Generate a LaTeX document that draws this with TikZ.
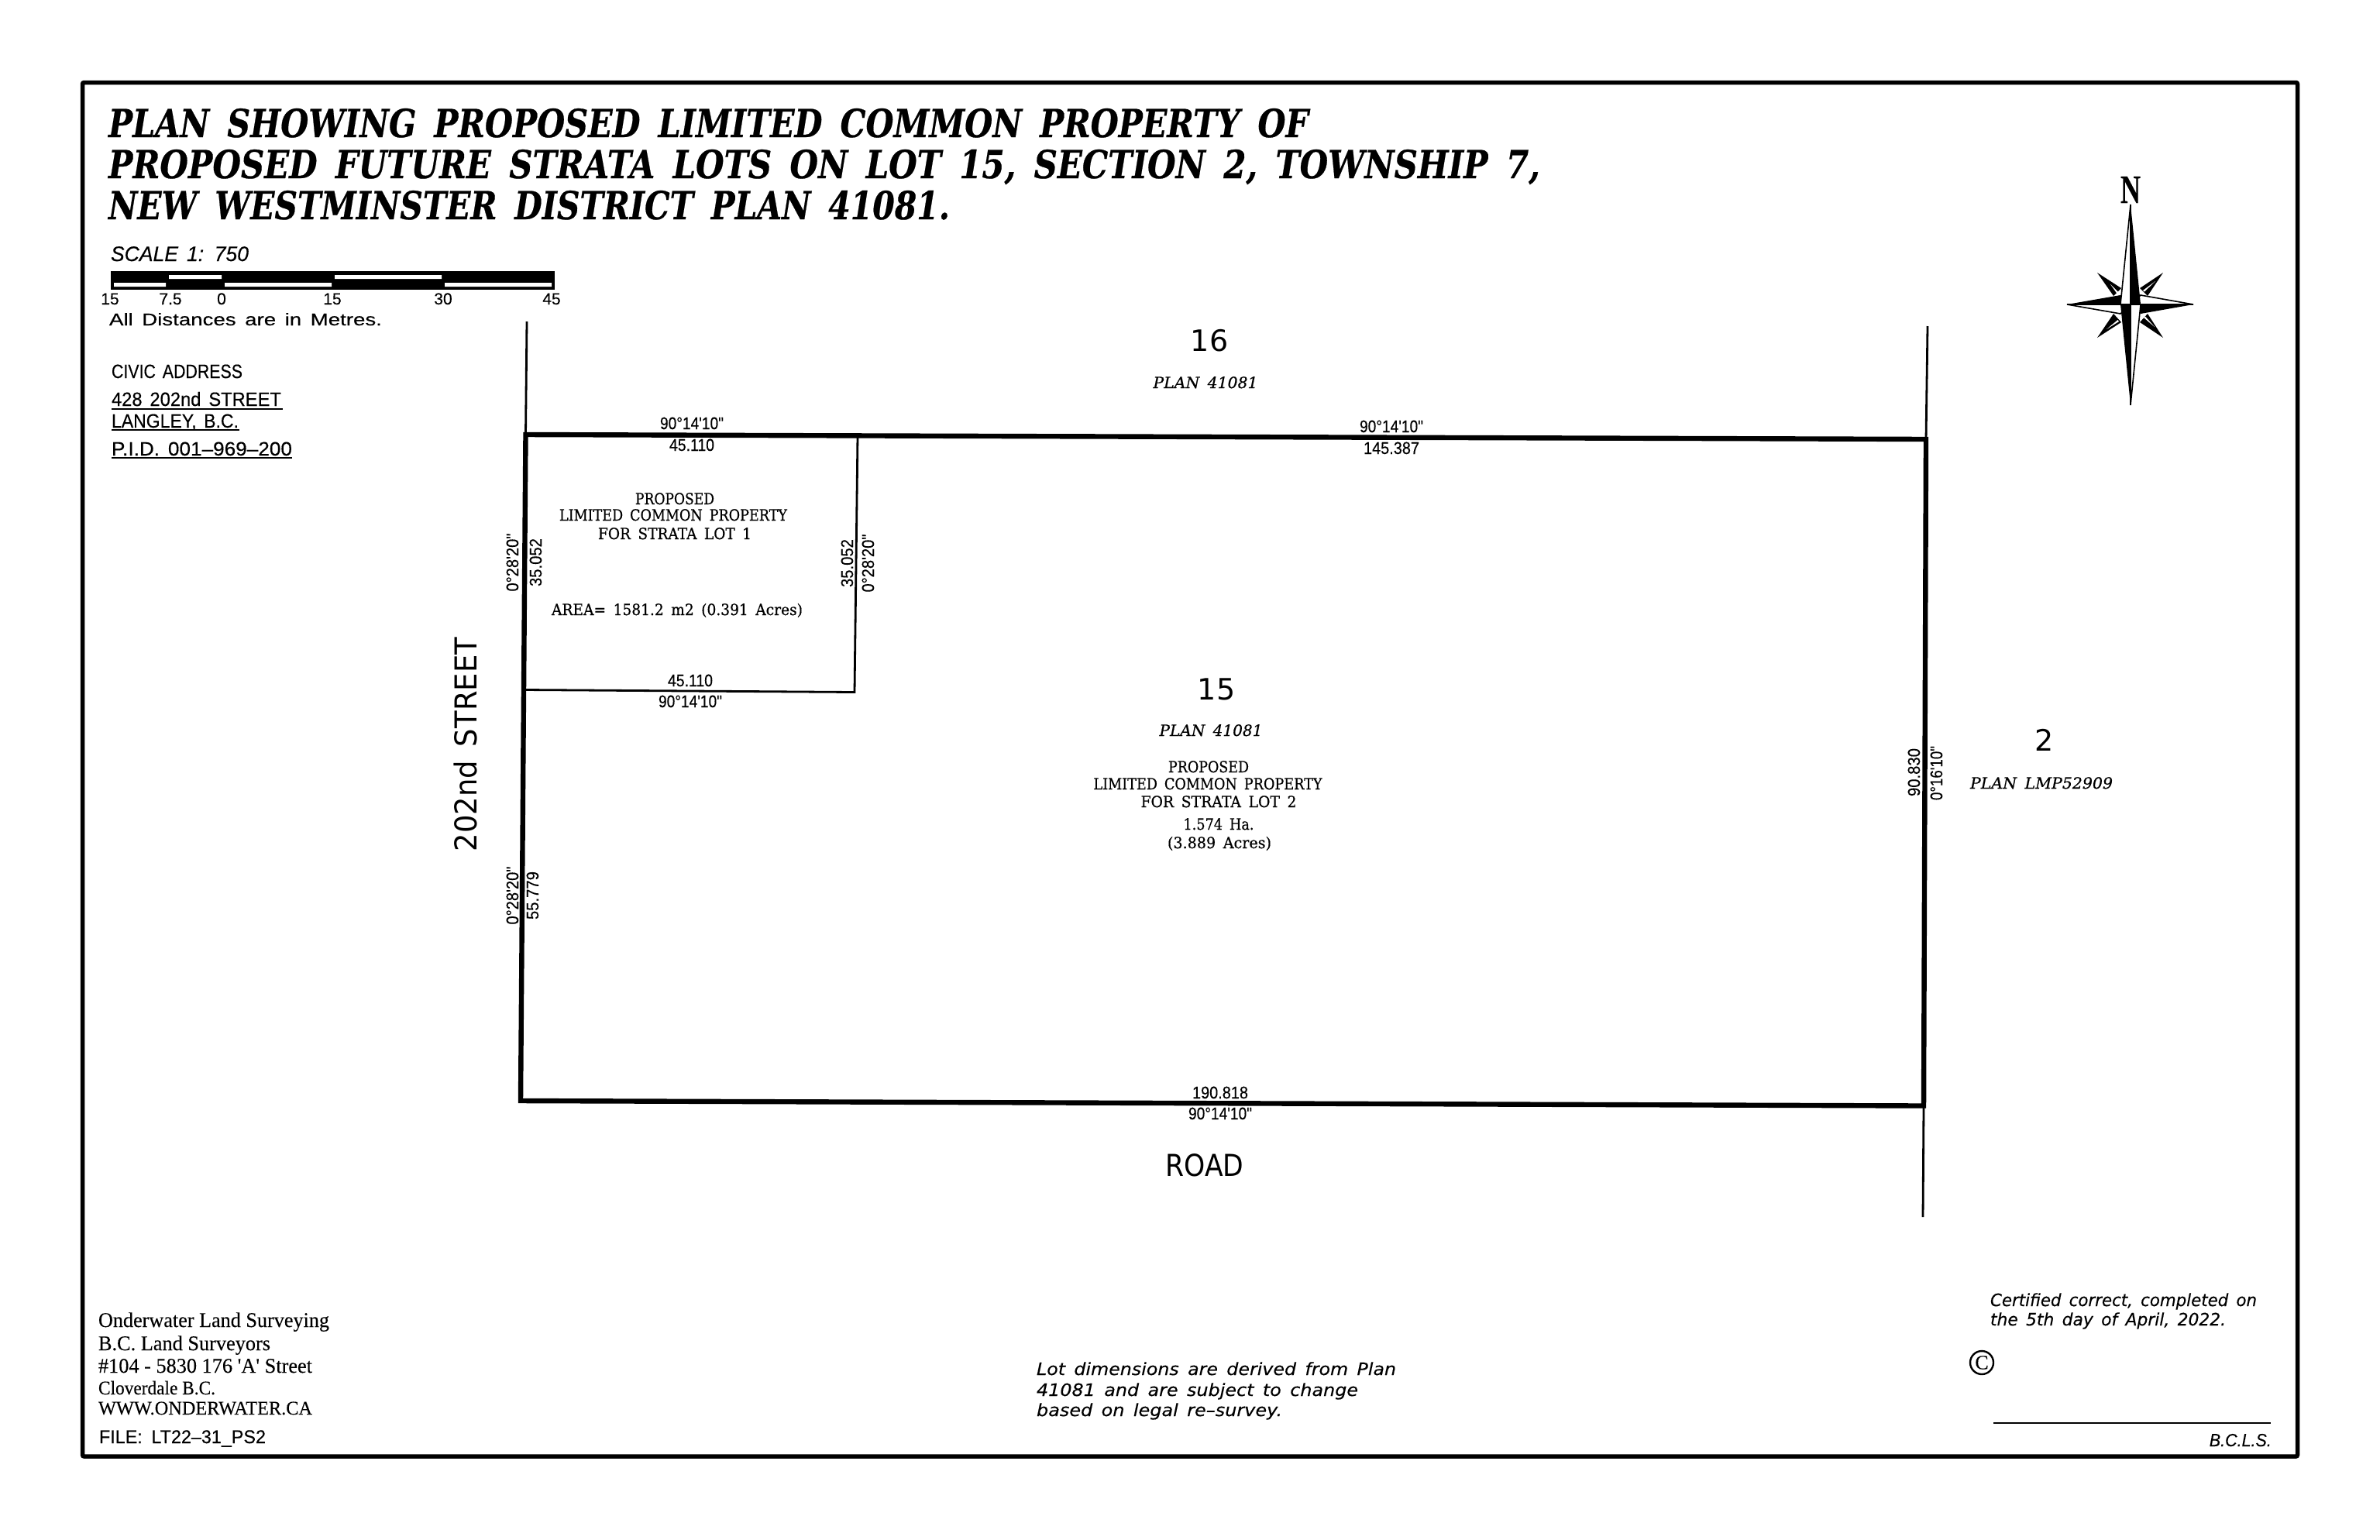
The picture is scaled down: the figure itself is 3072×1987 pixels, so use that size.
\documentclass[tikz,border=0pt]{standalone}
\usepackage{fontspec}
\usepackage{graphicx}
\setmainfont{Liberation Sans}
\newfontfamily\sansf[WordSpace=1.5,FakeBold=0.3,ItalicFeatures={FakeBold=0.3}]{Liberation Sans}
\newfontfamily\bigf[WordSpace=1.2]{DejaVu Sans}
\newfontfamily\oblf[WordSpace=1.5,ItalicFeatures={FakeBold=0.3}]{DejaVu Sans}
\newfontfamily\titlef[WordSpace=2.0,BoldItalicFeatures={FakeBold=0.5}]{DejaVu Serif}
\newfontfamily\slabf[WordSpace=1.6,FakeBold=0.5,ItalicFeatures={FakeBold=0.6}]{DejaVu Serif}
\newfontfamily\romanf[FakeBold=0.15]{Liberation Serif}
\newcommand\fsz[1]{\fontsize{#1}{#1}\selectfont}
\newsavebox\fitbox
\newcommand\fitw[2]{\sbox\fitbox{#2}\pgfmathsetmacro\fitr{#1/\the\wd\fitbox}\scalebox{\fitr}[1]{\usebox\fitbox}}
\tikzset{
  txl/.style={anchor=base west,inner sep=0pt,outer sep=0pt},
  txc/.style={anchor=base,inner sep=0pt,outer sep=0pt},
  txv/.style={anchor=base,inner sep=0pt,outer sep=0pt,rotate=90},
  heavy/.style={line width=6.4pt,line join=miter},
  light/.style={line width=2.8pt},
  dimt/.style={font=\sansf\fsz{22}},
  slabt/.style={font=\slabf\fsz{20}},
  plant/.style={font=\slabf\itshape\fsz{20}}
}
\begin{document}
\begin{tikzpicture}[x=1pt,y=-1pt]
\useasboundingbox (0,0) rectangle (3072,1987);
\fill[white] (0,0) rectangle (3072,1987);
% frame
\draw[line width=5.5pt,rounded corners=2pt] (106.5,106.5) rectangle (2965.5,1880);
% title
\node[txl,font=\titlef\itshape\bfseries\fsz{50}] (t1) at (140,177) {\fitw{1549}{PLAN SHOWING PROPOSED LIMITED COMMON PROPERTY OF}};
\node[txl,font=\titlef\itshape\bfseries\fsz{50}] (t2) at (140,230) {\fitw{1848}{PROPOSED FUTURE STRATA LOTS ON LOT 15, SECTION 2, TOWNSHIP 7,}};
\node[txl,font=\titlef\itshape\bfseries\fsz{50}] (t3) at (140,283) {\fitw{1086}{NEW WESTMINSTER DISTRICT PLAN 41081.}};
% scale
\node[txl,font=\sansf\itshape\fsz{27}] (sc) at (143,337) {\fitw{178}{SCALE 1: 750}};
\fill[black] (143,350) rectangle (716,374);
\fill[white] (218,355) rectangle (286,360) (432,355) rectangle (570,360);
\fill[white] (147,365) rectangle (214,370) (290,365) rectangle (428,370) (574,365) rectangle (712,370);
\foreach \x/\lb in {142/15,220/7.5,286/0,429/15,572/30,712/45}
  \node[txc,font=\sansf\fsz{21}] at (\x,393) {\lb};
\node[txl,font=\sansf\fsz{22}] (dist) at (141,420) {\fitw{352}{All Distances are in Metres.}};
\node[txl,font=\sansf\fsz{25}] (civ) at (144,488) {\fitw{169}{CIVIC ADDRESS}};
\node[txl,font=\sansf\fsz{25}] (civ1) at (144,524) {\fitw{219}{428 202nd STREET}};
\node[txl,font=\sansf\fsz{25}] (civ2) at (144,552) {\fitw{164}{LANGLEY, B.C.}};
\node[txl,font=\sansf\fsz{25}] (civ3) at (144,588) {\fitw{233}{P.I.D. 001–969–200}};
\draw[line width=2pt] (144,527.5) -- (365,527.5) (144,555) -- (309,555) (144,591) -- (377,591);
% north arrow
\begin{scope}[fill=black]
\fill (2707,352) -- (2738,372) -- (2728,382) -- cycle;
\fill (2792,352) -- (2762,372) -- (2772,382) -- cycle;
\fill (2707,436) -- (2738,416) -- (2728,405) -- cycle;
\fill (2792,436) -- (2762,416) -- (2772,405) -- cycle;
\fill[white] (2724,367) -- (2735,378) -- (2732.5,379) -- cycle;
\fill[white] (2782,363) -- (2766,375) -- (2768,376.5) -- cycle;
\fill[white] (2719,425) -- (2735,415) -- (2733.5,413) -- cycle;
\fill[white] (2781,422) -- (2767,410) -- (2769,408.5) -- cycle;
\fill (2668,393) -- (2737,381) -- (2750,393) -- cycle;
\fill (2831,393) -- (2763,405) -- (2750,393) -- cycle;
\draw[line width=1.6pt,fill=white] (2668,393) -- (2737,405) -- (2750,393) -- cycle;
\draw[line width=1.6pt,fill=white] (2831,393) -- (2763,381) -- (2750,393) -- cycle;
\fill (2750,264) -- (2763,393) -- (2750,393) -- cycle;
\fill (2750,523) -- (2737,393) -- (2750,393) -- cycle;
\draw[line width=1.6pt,fill=white] (2750,264) -- (2737,393) -- (2750,393) -- cycle;
\draw[line width=1.6pt,fill=white] (2750,523) -- (2763,393) -- (2750,393) -- cycle;
\fill (2737,392) rectangle (2750,394);
\fill (2750,392) rectangle (2763,394);
\end{scope}
\node[txc,font=\romanf\bfseries\fsz{52}] (north) at (2750,262) {\fitw{26}{N}};
% parcel
\coordinate (tl) at (678.5,561);
\coordinate (tm) at (1107,562);
\coordinate (tr) at (2486,567);
\coordinate (br) at (2483,1427.5);
\coordinate (bl) at (672,1421);
\coordinate (il) at (677,890.5);
\coordinate (im) at (1103,893.5);
\coordinate (e1) at (680,415);
\coordinate (e2) at (2488,421);
\coordinate (e3) at (2482,1571);
\draw[light] (tm) -- (im) -- (il);
\draw[light] (e1) -- (tl) (e2) -- (tr) (br) -- (e3);
\draw[heavy] (bl) -- (tl) -- (tr) -- (br) -- cycle;
% parcel labels
\node[txc,dimt] (a1) at (893,554) {\fitw{82}{90°14'10"}};
\node[txc,dimt] (a2) at (893,582) {\fitw{58}{45.110}};
\node[txc,dimt] (a3) at (1796,558) {\fitw{82}{90°14'10"}};
\node[txc,dimt] (a4) at (1796,586) {\fitw{72}{145.387}};
\node[txc,dimt] (a5) at (891,886) {\fitw{58}{45.110}};
\node[txc,dimt] (a6) at (891,913) {\fitw{82}{90°14'10"}};
\node[txc,dimt] (a7) at (1575,1418) {\fitw{72}{190.818}};
\node[txc,dimt] (a8) at (1575,1445) {\fitw{82}{90°14'10"}};
\node[txv,dimt] (v1) at (669,726) {\fitw{75}{0°28'20"}};
\node[txv,dimt] (v2) at (699,726) {\fitw{62}{35.052}};
\node[txv,dimt] (v3) at (1101,727) {\fitw{62}{35.052}};
\node[txv,dimt] (v4) at (1128,727) {\fitw{75}{0°28'20"}};
\node[txv,dimt] (v5) at (669,1156) {\fitw{75}{0°28'20"}};
\node[txv,dimt] (v6) at (695,1156) {\fitw{62}{55.779}};
\node[txv,dimt] (v7) at (2478,997) {\fitw{62}{90.830}};
\node[txv,dimt] (v8) at (2507,998) {\fitw{70}{0°16'10"}};
% inner lot
\node[txc,slabt] (b1) at (871,651) {\fitw{102}{PROPOSED}};
\node[txc,slabt] (b2) at (869,672) {\fitw{294}{LIMITED COMMON PROPERTY}};
\node[txc,slabt] (b3) at (871,696) {\fitw{198}{FOR STRATA LOT 1}};
\node[txc,slabt] (b4) at (874,794) {\fitw{324}{AREA= 1581.2 m2 (0.391 Acres)}};
% lot 15
\node[txc,font=\bigf\fsz{38}] (l15) at (1570,903) {15};
\node[txc,plant] (p15) at (1563,950) {\fitw{133}{PLAN 41081}};
\node[txc,slabt] (c1) at (1560,997) {\fitw{104}{PROPOSED}};
\node[txc,slabt] (c2) at (1559,1019) {\fitw{295}{LIMITED COMMON PROPERTY}};
\node[txc,slabt] (c3) at (1573,1042) {\fitw{201}{FOR STRATA LOT 2}};
\node[txc,slabt] (c4) at (1573,1071) {\fitw{91}{1.574 Ha.}};
\node[txc,slabt] (c5) at (1574,1095) {\fitw{134}{(3.889 Acres)}};
% neighbours
\node[txc,font=\bigf\fsz{38}] (l16) at (1561,453) {16};
\node[txc,plant] (p16) at (1556,501) {\fitw{135}{PLAN 41081}};
\node[txc,font=\bigf\fsz{38}] (l2) at (2639,969) {2};
\node[txc,plant] (p2) at (2635,1018) {\fitw{184}{PLAN LMP52909}};
\node[txv,font=\bigf\fsz{39}] (st) at (615,961) {\fitw{276}{202nd STREET}};
\node[txc,font=\bigf\fsz{39}] (rd) at (1555,1518) {\fitw{101}{ROAD}};
% footer left
\node[txl,font=\romanf\fsz{27}] (f1) at (127,1713) {\fitw{298}{Onderwater Land Surveying}};
\node[txl,font=\romanf\fsz{27}] (f2) at (127,1743) {\fitw{222}{B.C. Land Surveyors}};
\node[txl,font=\romanf\fsz{27}] (f3) at (127,1772) {\fitw{276}{\#104 - 5830 176 'A' Street}};
\node[txl,font=\romanf\fsz{25}] (f4) at (127,1800) {\fitw{151}{Cloverdale B.C.}};
\node[txl,font=\romanf\fsz{25}] (f5) at (127,1826) {\fitw{276}{WWW.ONDERWATER.CA}};
\node[txl,font=\sansf\fsz{24}] (f6) at (128,1863) {\fitw{215}{FILE:\hspace{12pt}LT22–31\_PS2}};
% footer note
\node[txl,font=\oblf\itshape\fsz{22}] (n1) at (1338,1775) {\fitw{464}{Lot dimensions are derived from Plan}};
\node[txl,font=\oblf\itshape\fsz{22}] (n2) at (1338,1802) {\fitw{415}{41081 and are subject to change}};
\node[txl,font=\oblf\itshape\fsz{22}] (n3) at (1338,1828) {\fitw{317}{based on legal re–survey.}};
% certification
\node[txl,font=\oblf\itshape\fsz{22}] (k1) at (2569,1686) {\fitw{344}{Certified correct, completed on}};
\node[txl,font=\oblf\itshape\fsz{22}] (k2) at (2569,1711) {\fitw{304}{the 5th day of April, 2022.}};
\node[circle,draw,line width=2.4pt,minimum size=30pt,inner sep=0pt,font=\romanf\fsz{26}] (copy) at (2558,1759) {C};
\coordinate (s1) at (2573,1837);
\coordinate (s2) at (2931,1837);
\draw[light] (s1) -- (s2);
\node[anchor=base east,inner sep=0pt,font=\sansf\itshape\fsz{23}] (bcls) at (2932,1867) {\fitw{80}{B.C.L.S.}};
\end{tikzpicture}
\end{document}
